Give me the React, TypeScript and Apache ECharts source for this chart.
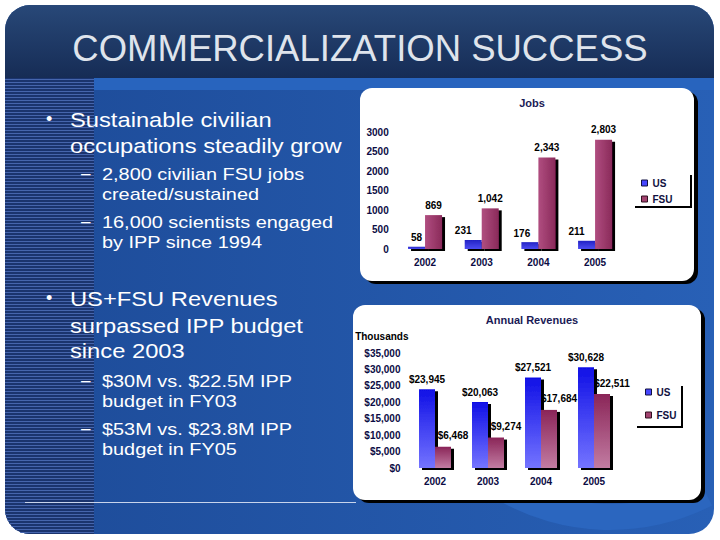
import React, { useEffect, useRef } from 'react';
import * as echarts from 'echarts';

// ---- data ----
const years = ['2002', '2003', '2004', '2005'];
const seriesNames = ['US', 'FSU'];
const jobsUS = [58, 231, 176, 211];
const jobsFSU = [869, 1042, 2343, 2803];
const revenueUS = [23945, 20063, 27521, 30628];
const revenueFSU = [6468, 9274, 17684, 22511];
const jobsAxisMax = 3000;
const jobsAxisStep = 500;
const revenueAxisMax = 35000;
const revenueAxisStep = 5000;

const slideTitle = 'COMMERCIALIZATION SUCCESS';
const jobsTitle = 'Jobs';
const revenueTitle = 'Annual Revenues';
const revenueUnit = 'Thousands';

// ---- styling ----
const FONT = '"Liberation Sans", Arial, Helvetica, sans-serif';
const NAVY = '#0c0c44';
const jobsUSLabelDx = [0, -10, -8, -10];

type Line = { text: string; level: number; y: number; mark?: boolean };
const bodyLines: Line[] = [
  { text: 'Sustainable civilian', level: 0, y: 119.5, mark: true },
  { text: 'occupations steadily grow', level: 0, y: 145.5 },
  { text: '2,800 civilian FSU jobs', level: 1, y: 174, mark: true },
  { text: 'created/sustained', level: 1, y: 194 },
  { text: '16,000 scientists engaged', level: 1, y: 222, mark: true },
  { text: 'by IPP since 1994', level: 1, y: 242 },
  { text: 'US+FSU Revenues', level: 0, y: 299, mark: true },
  { text: 'surpassed IPP budget', level: 0, y: 325.5 },
  { text: 'since 2003', level: 0, y: 350.5 },
  { text: '$30M vs. $22.5M IPP', level: 1, y: 381, mark: true },
  { text: 'budget in FY03', level: 1, y: 401 },
  { text: '$53M vs. $23.8M IPP', level: 1, y: 429, mark: true },
  { text: 'budget in FY05', level: 1, y: 449 },
];

const grad = (c1: string, c2: string, horiz = false) => ({
  type: 'linear', x: 0, y: 0, x2: horiz ? 1 : 0, y2: horiz ? 0 : 1,
  colorStops: [{ offset: 0, color: c1 }, { offset: 1, color: c2 }],
});

function buildGraphics() {
  const els: any[] = [];
  // slide body
  els.push({ type: 'rect', z: 0, shape: { x: 5, y: 5, width: 709, height: 529, r: 25 },
    style: { fill: grad('#1d4b98', '#2860b6', true) } });
  // decorative globe band bottom-right
  els.push({ type: 'sector', z: 0, shape: { cx: 610, cy: 305, r0: 199, r: 225, startAngle: 1.1, endAngle: 2.1 },
    style: { fill: '#2b66bf' } });
  // header
  els.push({ type: 'rect', z: 0, shape: { x: 5, y: 5, width: 709, height: 73, r: [25, 25, 0, 0] },
    style: { fill: grad('#284878', '#162c55') } });
  // light band under header
  els.push({ type: 'rect', z: 0, shape: { x: 94, y: 78, width: 620, height: 12 }, style: { fill: '#2864be' } });
  // striped column
  els.push({ type: 'rect', z: 0, shape: { x: 5, y: 78, width: 89, height: 456, r: [0, 0, 0, 25] },
    style: { fill: '#1a346e' } });
  for (let y = 79; y < 534; y += 3) {
    let x0 = 5;
    if (y > 509) {
      const d = y - 509;
      x0 = 5 + 25 - Math.sqrt(Math.max(0, 625 - d * d));
    }
    els.push({ type: 'line', z: 0, silent: true, shape: { x1: x0, y1: y + 0.5, x2: 94, y2: y + 0.5 },
      style: { stroke: '#4565ad', lineWidth: 1 } });
  }
  // white rule line
  els.push({ type: 'line', z: 0, shape: { x1: 25, y1: 502.5, x2: 356, y2: 502.5 },
    style: { stroke: '#c8d4ec', lineWidth: 1 } });
  // title
  els.push({ type: 'text', z: 1, x: 360, y: 48, style: { text: slideTitle, fill: '#dfe4ec',
    fontSize: 36.5, fontFamily: FONT, align: 'center', verticalAlign: 'middle' } });
  // body text
  bodyLines.forEach((l) => {
    const fs = l.level === 0 ? 21 : 17;
    const sx = l.level === 0 ? 1.13 : 1.17;
    const x = l.level === 0 ? 70 : 102;
    els.push({ type: 'text', z: 1, x, y: l.y, scaleX: sx, style: { text: l.text, fill: '#ffffff',
      fontSize: fs, fontFamily: FONT, verticalAlign: 'middle' } });
    if (l.mark) {
      els.push({ type: 'text', z: 1, x: l.level === 0 ? 46 : 81, y: l.y - 1, style: {
        text: l.level === 0 ? '•' : '–', fill: '#ffffff', fontSize: l.level === 0 ? 18 : 17,
        fontFamily: FONT, verticalAlign: 'middle' } });
    }
  });
  // chart boxes (shadow + white)
  const box = (x: number, y: number, w: number, h: number) => {
    els.push({ type: 'rect', z: 1, shape: { x: x + 4, y: y + 3, width: w, height: h, r: 12 }, style: { fill: '#000' } });
    els.push({ type: 'rect', z: 1, shape: { x, y, width: w, height: h, r: 12 }, style: { fill: '#ffffff' } });
  };
  box(360, 88, 334, 193);
  box(353, 305, 348, 195);
  // legend frames (right + bottom edges)
  els.push({ type: 'polyline', z: 1, shape: { points: [[691, 175], [691, 207], [635, 207]] },
    style: { stroke: '#000', lineWidth: 2, fill: null } });
  els.push({ type: 'polyline', z: 1, shape: { points: [[682, 386], [682, 427], [637, 427]] },
    style: { stroke: '#000', lineWidth: 2, fill: null } });
  return els;
}

const axisLabelStyle = { color: NAVY, fontSize: 10, fontWeight: 'bold', fontFamily: FONT };
const dataLabelStyle = { color: '#000', fontSize: 10, fontWeight: 'bold', fontFamily: FONT };
const barShadow = { shadowColor: '#000', shadowOffsetX: 3, shadowOffsetY: 2, shadowBlur: 0 };
const fmt = (v: number) => v.toLocaleString('en-US');

export default function App() {
  const ref = useRef<HTMLDivElement>(null);
  useEffect(() => {
    if (!ref.current) return;
    const chart = echarts.init(ref.current, null, { renderer: 'svg' });
    const legendItems = [
      { name: seriesNames[0], itemStyle: { color: '#4646ff', borderColor: '#101040', borderWidth: 1 } },
      { name: seriesNames[1], itemStyle: { color: '#a2426f', borderColor: '#301020', borderWidth: 1 } },
    ];
    const option: any = {
      animation: false,
      backgroundColor: '#ffffff',
      graphic: { elements: buildGraphics() },
      title: [
        { text: jobsTitle, left: 527, top: 92, textAlign: 'center',
          textStyle: { color: '#1a1a55', fontSize: 11, fontWeight: 'bold', fontFamily: FONT } },
        { text: revenueTitle, left: 527, top: 309, textAlign: 'center',
          textStyle: { color: '#1a1a55', fontSize: 11, fontWeight: 'bold', fontFamily: FONT } },
      ],
      legend: [
        { left: 636, top: 173, orient: 'vertical', icon: 'rect', itemWidth: 6, itemHeight: 6, itemGap: 6,
          selectedMode: false, data: legendItems, textStyle: { ...axisLabelStyle, color: '#101040' } },
        { left: 640, top: 382, orient: 'vertical', icon: 'rect', itemWidth: 6, itemHeight: 6, itemGap: 13,
          selectedMode: false, data: legendItems, textStyle: { ...axisLabelStyle, color: '#101040' } },
      ],
      grid: [
        { left: 396.7, top: 132, width: 226.7, height: 117 },
        { left: 408.5, top: 353, width: 212, height: 115 },
      ],
      xAxis: [0, 1].map((i) => ({
        type: 'category', gridIndex: i, data: years, z: 10,
        axisLine: { show: false }, axisTick: { show: false }, splitLine: { show: false },
        axisLabel: { ...axisLabelStyle, margin: 8 },
      })),
      yAxis: [
        { type: 'value', gridIndex: 0, min: 0, max: jobsAxisMax, interval: jobsAxisStep, z: 10,
          axisLine: { show: false }, axisTick: { show: false }, splitLine: { show: false },
          axisLabel: { ...axisLabelStyle, margin: 8, formatter: (v: number) => String(v) } },
        { type: 'value', gridIndex: 1, min: 0, max: revenueAxisMax, interval: revenueAxisStep, z: 10,
          name: revenueUnit, nameGap: 12,
          nameTextStyle: { ...axisLabelStyle, color: '#000', align: 'right' },
          axisLine: { show: false }, axisTick: { show: false }, splitLine: { show: false },
          axisLabel: { ...axisLabelStyle, margin: 8, formatter: (v: number) => '$' + fmt(v) } },
      ],
      series: [
        { name: seriesNames[0], type: 'bar', xAxisIndex: 0, yAxisIndex: 0, barWidth: 17, barGap: '0%',
          data: jobsUS.map((v, i) => ({ value: v, label: { offset: [jobsUSLabelDx[i], 0] } })),
          itemStyle: { color: grad('#2222c4', '#4c4cf2'), ...barShadow },
          label: { show: true, position: 'top', distance: 4, formatter: (p: any) => fmt(p.value), ...dataLabelStyle } },
        { name: seriesNames[1], type: 'bar', xAxisIndex: 0, yAxisIndex: 0, barWidth: 17, barGap: '0%',
          data: jobsFSU,
          itemStyle: { color: grad('#b04e80', '#8a2a5a', true), ...barShadow },
          label: { show: true, position: 'top', distance: 5, formatter: (p: any) => fmt(p.value), ...dataLabelStyle } },
        { name: seriesNames[0], type: 'bar', xAxisIndex: 1, yAxisIndex: 1, barWidth: 16, barGap: '0%',
          data: revenueUS,
          itemStyle: { color: grad('#1010e6', '#7474ff'), ...barShadow },
          label: { show: true, position: 'top', distance: 5, formatter: (p: any) => '$' + fmt(p.value), ...dataLabelStyle } },
        { name: seriesNames[1], type: 'bar', xAxisIndex: 1, yAxisIndex: 1, barWidth: 16, barGap: '0%',
          data: revenueFSU,
          itemStyle: { color: grad('#8a2558', '#c27ca2'), ...barShadow },
          label: { show: true, position: 'top', distance: 6, offset: [10, 0], formatter: (p: any) => '$' + fmt(p.value), ...dataLabelStyle } },
      ],
    };
    chart.setOption(option);
    return () => chart.dispose();
  }, []);
  return <div ref={ref} style={{ position: 'absolute', left: 0, top: 0, width: 720, height: 540 }} />;
}
